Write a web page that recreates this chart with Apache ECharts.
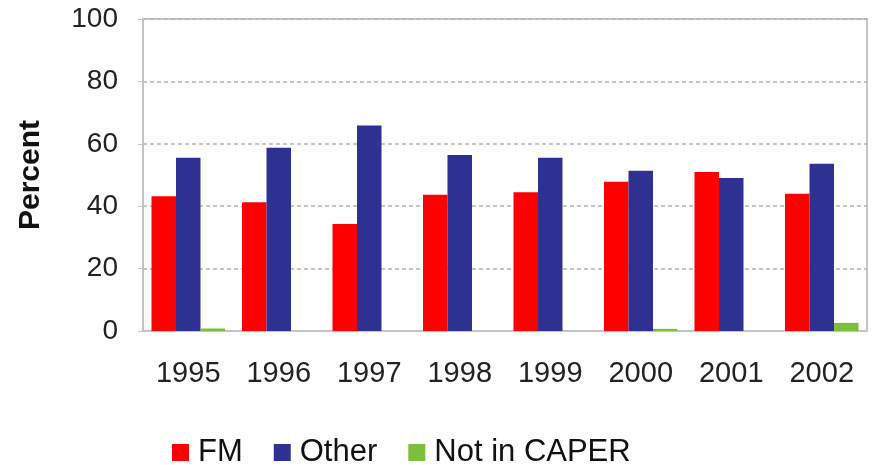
<!DOCTYPE html>
<html lang="en">
<head>
<meta charset="UTF-8">
<title>Percent by year</title>
<style>
    html, body { margin: 0; padding: 0; background: #fff; }
    #chart { width: 873px; height: 465px; }
</style>
</head>
<body>
<div id="chart"></div>
<script src="https://cdn.jsdelivr.net/npm/echarts@6/dist/echarts.min.js"></script>
<script>
// values
var years = ['1995', '1996', '1997', '1998', '1999', '2000', '2001', '2002'];
var fm = [43.2, 41.3, 34.3, 43.7, 44.5, 47.8, 51.0, 44.0];
var other = [55.5, 58.7, 65.9, 56.4, 55.5, 51.4, 49.0, 53.6];
var notInCaper = [0.8, 0, 0, 0, 0, 0.7, 0, 2.6];
var yTicks = [0, 20, 40, 60, 80, 100];

var font = 'Liberation Sans, Arial, sans-serif';
var chart = echarts.init(document.getElementById('chart'));

function bar(name, data, color) {
    return {
        name: name,
        type: 'bar',
        data: data,
        barWidth: 24.5,
        barGap: '0%',
        itemStyle: { color: color },
        emphasis: { disabled: true }
    };
}

var option = {
    animation: false,
    grid: {
        left: 143, right: 6, top: 19, bottom: 134,
        outerBoundsMode: 'none',
        show: true,
        borderColor: '#c4c4c4',
        borderWidth: 2
    },
    legend: {
        left: 167,
        top: 432,
        itemWidth: 17,
        itemHeight: 17,
        itemGap: 31,
        icon: 'rect',
        textStyle: { fontFamily: font, fontSize: 31, color: '#111', padding: [0, 0, 0, 4] },
        data: ['FM', 'Other', 'Not in CAPER']
    },
    xAxis: {
        type: 'category',
        data: years,
        axisLine: { lineStyle: { color: '#c4c4c4', width: 2 } },
        axisTick: { show: false },
        axisLabel: { fontFamily: font, fontSize: 29, color: '#222', margin: 28 }
    },
    yAxis: {
        type: 'value',
        min: yTicks[0],
        max: yTicks[yTicks.length - 1],
        interval: 20,
        name: 'Percent',
        nameLocation: 'middle',
        nameGap: 97,
        nameTextStyle: { fontFamily: font, fontSize: 30, fontWeight: 'bold', color: '#111' },
        axisLine: { show: true, lineStyle: { color: '#c4c4c4', width: 2 } },
        axisTick: { show: true, length: 5, lineStyle: { color: '#c4c4c4' } },
        axisLabel: { fontFamily: font, fontSize: 28, color: '#222', margin: 25 },
        splitLine: { lineStyle: { color: '#b4b4b4', type: [4, 3], width: 1.5 } }
    },
    series: [
        bar('FM', fm, '#ff0000'),
        bar('Other', other, '#2e3191'),
        bar('Not in CAPER', notInCaper, '#7cbf3a')
    ]
};
chart.setOption(option);
</script>
</body>
</html>
